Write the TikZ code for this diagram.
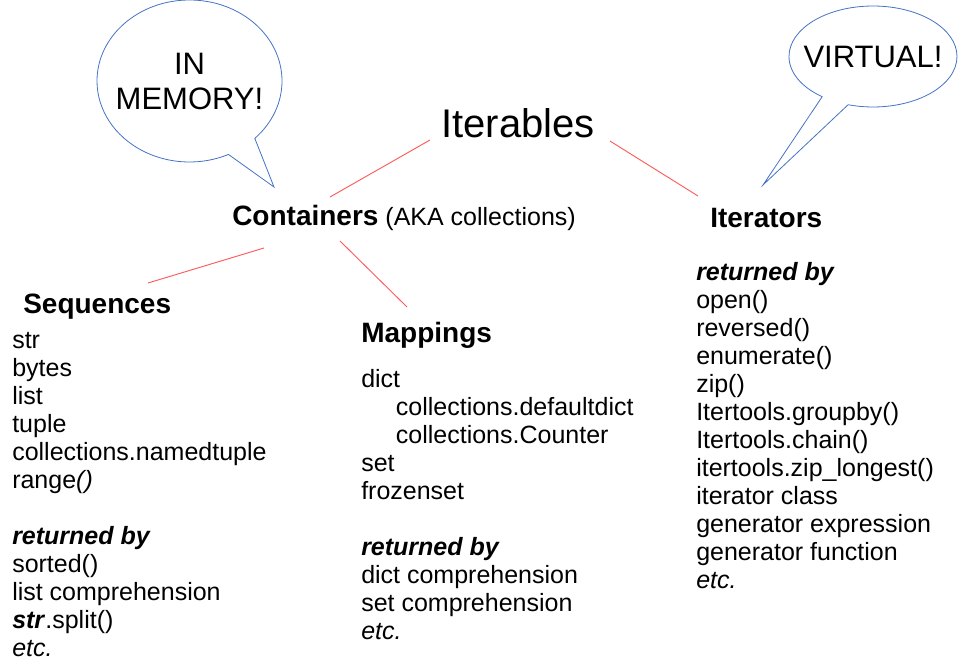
\documentclass[tikz,border=0pt]{standalone}
\usepackage{fontspec}
\setmainfont{Liberation Sans}
\usepackage{tikz}
\usetikzlibrary{shapes.callouts,calc}
\definecolor{linkred}{RGB}{255,90,90}
\definecolor{bubbleblue}{RGB}{68,114,196}

\begin{document}
\begin{tikzpicture}[x=0.75pt,y=-0.75pt,
	body/.style={font=\fontsize{18.75}{21}\selectfont,align=left,anchor=base west,inner sep=0pt},
	head/.style={font=\fontsize{21}{25}\selectfont\bfseries,anchor=base west,inner sep=0pt},
	link/.style={draw=linkred,line width=0.7pt},
	bubble/.style={ellipse callout,draw=bubbleblue,line width=0.6pt,callout pointer arc=20,inner sep=0pt},
	bubbletext/.style={font=\fontsize{23.25}{26.25}\selectfont,align=center,inner sep=0pt}]
	\useasboundingbox (0,0) rectangle (972,665);

	%top
	\node[anchor=base west,inner sep=0pt,font=\fontsize{30}{36}\selectfont] (iterables) at (441,137) {Iterables};
	\node[head] (containers) at (232,225) {Containers\fontsize{18.75}{21}\mdseries\selectfont\ (AKA collections)};
	\node[head] (iterators) at (710,227) {Iterators};

	%sequences (lists sit on the baseline of their last line)
	\node[head] (sequences) at (23,313) {Sequences};
	\node[body] (seqlist) at (12,656) {str\\ bytes\\ list\\ tuple\\ collections.namedtuple\\ range\textit{()}\\[21pt]
		\textbf{\textit{returned by}}\\ sorted()\\ list comprehension\\ \textbf{\textit{str}}.split()\\ \textit{etc.}};

	%mappings
	\node[head] (mappings) at (361,342) {Mappings};
	\node[body] (maplist) at (361,639) {dict\\ \hspace*{26pt}collections.defaultdict\\ \hspace*{26pt}collections.Counter\\ set\\ frozenset\\[21pt]
		\textbf{\textit{returned by}}\\ dict comprehension\\ set comprehension\\ \textit{etc.}};

	%iterators
	\node[body] (itlist) at (696,588) {\textbf{\textit{returned by}}\\ open()\\ reversed()\\ enumerate()\\ zip()\\ Itertools.groupby()\\ Itertools.chain()\\
		itertools.zip\_longest()\\ iterator class\\ generator expression\\ generator function\\ \textit{etc.}};

	%links
	\draw[link] ($(iterables.base west)+(-11,3)$) -- ($(containers.base west)+(98,-28)$);
	\draw[link] ($(iterables.base east)+(15,4)$) -- ($(iterators.base west)+(-12,-31)$);
	\draw[link] ($(containers.base west)+(32,23)$) -- ($(sequences.base west)+(125,-30)$);
	\draw[link] ($(containers.base west)+(108,16)$) -- ($(mappings.base west)+(46,-35)$);

	%bubbles
	\node[bubble,minimum width=138.75pt,minimum height=121.5pt,callout absolute pointer={(274,187)}] (membubble) at (189.5,81) {};
	\node[bubbletext] (memtext) at (membubble.center) {IN\\ MEMORY!};
	\node[bubble,minimum width=126pt,minimum height=75.75pt,callout absolute pointer={(763,185)}] (virtbubble) at (873,56.5) {};
	\node[bubbletext] (virttext) at (virtbubble.center) {VIRTUAL!};
\end{tikzpicture}
\end{document}
